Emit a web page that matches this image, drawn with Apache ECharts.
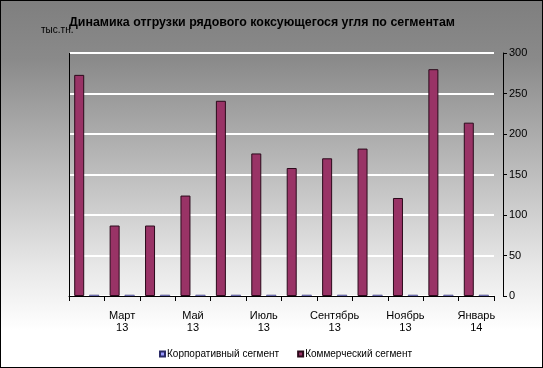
<!DOCTYPE html>
<html><head><meta charset="utf-8">
<script src="https://cdn.jsdelivr.net/npm/echarts@6/dist/echarts.min.js"></script>
<style>
html,body{margin:0;padding:0;}
#wrap{width:543px;height:368px;box-sizing:border-box;border:1px solid #000;
background:linear-gradient(to bottom,#7f7f7f 0%,#8a8a8a 16%,#e8e8e8 73%,#ffffff 90%,#ffffff 100%);}
#c{width:541px;height:366px;}
</style></head>
<body><div id="wrap"><div id="c"></div></div>
<script>
var categories = ['Февраль\n13','Март\n13','Апрель\n13','Май\n13','Июнь\n13','Июль\n13','Август\n13','Сентябрь\n13','Октябрь\n13','Ноябрь\n13','Декабрь\n13','Январь\n14'];
var corporate = [1.5,1.5,1.5,1.5,1.5,1.5,1.5,1.5,1.5,1.5,1.5,1.5];
var commercial = [273,87,87,124,241,176,158,170,182,121,280,214];
var yTicks = {min:0,max:300,interval:50};
var titleText = 'Динамика отгрузки рядового коксующегося угля по сегментам';
var unitText = 'тыс.тн.';
var seriesNames = ['Корпоративный сегмент','Коммерческий сегмент'];

var chart = echarts.init(document.getElementById('c'));
var font = 'Liberation Sans, Arial, sans-serif';
chart.setOption({
  animation:false,
  textStyle:{fontFamily:font},
  title:[
    {text:titleText,left:63,top:11,textStyle:{fontSize:12.4,fontWeight:'bold',color:'#000',fontFamily:font}},
    {text:unitText,left:35,top:19,textStyle:{fontSize:10,fontWeight:'normal',color:'#000',fontFamily:font}}
  ],
  legend:{
    data:seriesNames,bottom:3,left:153,itemWidth:5,itemHeight:5,itemGap:18,icon:'rect',
    textStyle:{fontSize:10,color:'#000',fontFamily:font,padding:[0,0,0,-3]}
  },
  grid:{left:68,right:48,top:52,bottom:71},
  xAxis:{
    type:'category',data:categories,offset:6,
    axisLine:{lineStyle:{color:'#000',width:1}},
    axisTick:{show:true,length:5,lineStyle:{color:'#000'},interval:0},
    axisLabel:{interval:function(i){return i%2===1;},color:'#000',fontSize:11,lineHeight:12,margin:8,fontFamily:font}
  },
  yAxis:[
    {type:'value',position:'left',min:yTicks.min,max:yTicks.max,interval:yTicks.interval,
     axisLine:{show:true,lineStyle:{color:'#000'}},axisTick:{show:false},axisLabel:{show:false},splitLine:{show:false}},
    {type:'value',position:'right',offset:9,min:yTicks.min,max:yTicks.max,interval:yTicks.interval,
     axisLine:{show:true,lineStyle:{color:'#000'}},
     axisTick:{show:true,length:4,lineStyle:{color:'#000'}},
     axisLabel:{color:'#000',fontSize:11,margin:6,fontFamily:font},
     splitLine:{show:true,lineStyle:{color:'#ffffff',width:2}}}
  ],
  series:[
    {name:seriesNames[1],type:'bar',yAxisIndex:1,data:commercial,barWidth:10,barGap:'50%',
     itemStyle:{color:'#993366',borderColor:'#2b0a1b',borderWidth:1}},
    {name:seriesNames[0],type:'bar',yAxisIndex:1,data:corporate,barWidth:10,
     itemStyle:{color:'#9999ff',borderColor:'#2a2a66',borderWidth:0.5}}
  ]
});
</script></body></html>
